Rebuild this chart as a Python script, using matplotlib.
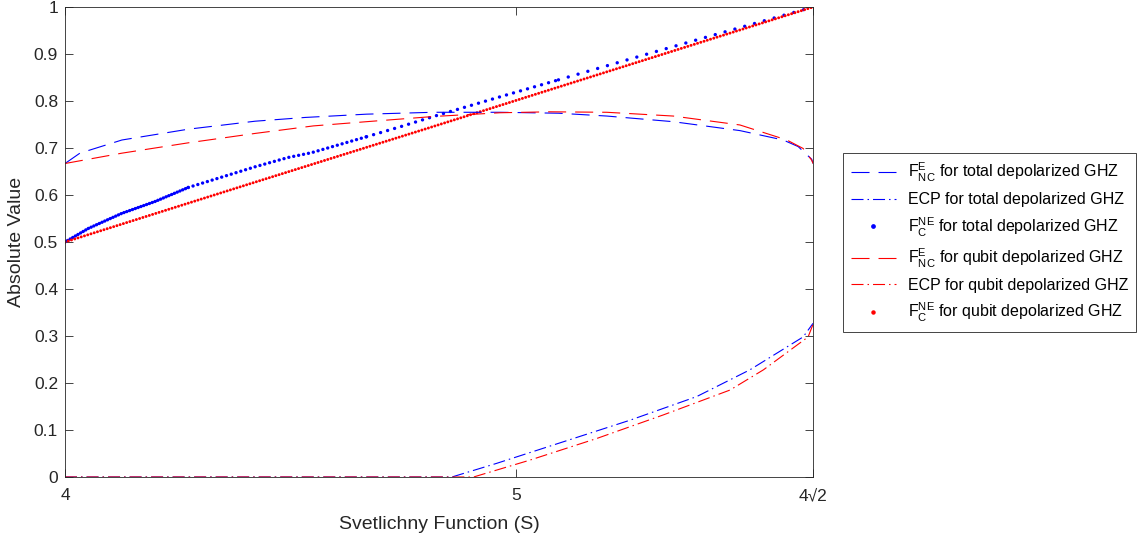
import matplotlib
matplotlib.use("Agg")
import matplotlib.pyplot as plt
from matplotlib.lines import Line2D
import numpy as np

plt.rcParams['font.family'] = ['Liberation Sans', 'DejaVu Sans']
plt.rcParams['mathtext.fontset'] = 'custom'
plt.rcParams['mathtext.rm'] = 'Liberation Sans'
plt.rcParams['mathtext.it'] = 'Liberation Sans'

S_dash_total = [4.0, 4.033, 4.126, 4.273, 4.421, 4.532, 4.668, 4.816, 4.964, 5.093, 5.200, 5.347, 5.495, 5.591, 5.624, 5.654, 5.657]
F_NC_total = [0.667, 0.689, 0.717, 0.740, 0.757, 0.765, 0.772, 0.776, 0.776, 0.774, 0.768, 0.756, 0.737, 0.717, 0.703, 0.676, 0.667]

S_dash_qubit = [4.0, 4.126, 4.273, 4.421, 4.550, 4.668, 4.816, 4.964, 5.074, 5.200, 5.347, 5.495, 5.599, 5.635, 5.654, 5.657]
F_NC_qubit = [0.667, 0.689, 0.711, 0.731, 0.747, 0.756, 0.767, 0.775, 0.777, 0.776, 0.768, 0.749, 0.717, 0.699, 0.674, 0.667]

S_ecp_total = [4.0, 4.857, 4.956, 5.104, 5.252, 5.399, 5.517, 5.635, 5.657]
ECP_total = [0.0, 0.0, 0.029, 0.075, 0.121, 0.171, 0.228, 0.298, 0.327]

S_ecp_qubit = [4.0, 4.905, 5.030, 5.178, 5.325, 5.473, 5.547, 5.646, 5.657]
ECP_qubit = [0.0, 0.0, 0.036, 0.082, 0.132, 0.185, 0.228, 0.298, 0.325]

S_dot_total = [4.0, 4.052, 4.126, 4.199, 4.273, 4.347, 4.421, 4.495, 4.546, 4.668, 4.742, 4.816, 4.964, 5.093, 5.290, 5.421, 5.535, 5.657]
F_C_total = [0.5, 0.529, 0.561, 0.586, 0.616, 0.638, 0.660, 0.680, 0.690, 0.724, 0.745, 0.767, 0.809, 0.845, 0.900, 0.936, 0.967, 1.0]

S_dot_qubit = [4.0, 4.4, 4.8, 5.2, 5.657]
F_C_qubit = [0.5, 0.621, 0.741, 0.862, 1.0]

labels = [r'$\mathrm{F^{E}_{NC}}$ for total depolarized GHZ',
          'ECP for total depolarized GHZ',
          r'$\mathrm{F^{NE}_{C}}$ for total depolarized GHZ',
          r'$\mathrm{F^{E}_{NC}}$ for qubit depolarized GHZ',
          'ECP for qubit depolarized GHZ',
          r'$\mathrm{F^{NE}_{C}}$ for qubit depolarized GHZ']

axcol = '#262626'

fig = plt.figure(figsize=(11.43, 5.37), dpi=100)
ax = fig.add_axes([65 / 1143, 60 / 537, 748 / 1143, 470 / 537])

lw = 0.8
dash = (0, (18 / 1.11, 9 / 1.11))
dashdot = (0, (12 / 1.11, 4 / 1.11, 1.5 / 1.11, 4 / 1.11))

# dotted curves drawn as round-capped zero length dashes
def dots(x, y, color, size, pitch):
    lw_pt = size * 0.72
    ax.plot(x, y, color=color, lw=lw_pt, dash_capstyle='round',
            linestyle=(0, (0.01, pitch / size - 0.01)))

# blue dots get sparser towards 4*sqrt(2)
pieces = [(0, 5, 3.0), (4, 10, 5.0), (9, 14, 7.3), (13, 18, 10.2)]
for a, b, p in pieces:
    dots(S_dot_total[a:b], F_C_total[a:b], 'blue', 3.4, p)
dots(S_dot_qubit, F_C_qubit, 'red', 3.0, 3.4)

ax.plot(S_dash_total, F_NC_total, color='blue', lw=lw, linestyle=dash)
ax.plot(S_ecp_total, ECP_total, color='blue', lw=lw, linestyle=dashdot)
ax.plot(S_dash_qubit, F_NC_qubit, color='red', lw=lw, linestyle=dash)
ax.plot(S_ecp_qubit, ECP_qubit, color='red', lw=lw, linestyle=dashdot)

ax.set_xlim(4, 4 * np.sqrt(2))
ax.set_ylim(0, 1)
ax.set_xticks([4, 5, 4 * np.sqrt(2)])
ax.set_xticklabels(['4', '5', '4\u221a2'])
ax.set_yticks(np.arange(0, 1.01, 0.1))
ax.set_yticklabels(['0', '0.1', '0.2', '0.3', '0.4', '0.5', '0.6', '0.7', '0.8', '0.9', '1'])
ax.tick_params(direction='in', top=True, right=True, length=5.5, width=0.6,
               colors=axcol, labelsize=12.5)
ax.tick_params(axis='x', pad=8)
ax.tick_params(axis='y', pad=5)
for sp in ax.spines.values():
    sp.set_color(axcol)
    sp.set_linewidth(0.6)

ax.set_xlabel('Svetlichny Function (S)', fontsize=14, color=axcol, labelpad=9)
ax.set_ylabel('Absolute Value', fontsize=14, color=axcol, labelpad=6)

handles = [Line2D([], [], color='blue', lw=lw, linestyle=dash),
           Line2D([], [], color='blue', lw=lw, linestyle=dashdot),
           Line2D([], [], color='blue', ls='none', marker='o', ms=2.4),
           Line2D([], [], color='red', lw=lw, linestyle=dash),
           Line2D([], [], color='red', lw=lw, linestyle=dashdot),
           Line2D([], [], color='red', ls='none', marker='o', ms=2.2)]
leg = fig.legend(handles, labels, loc='center left',
                 bbox_to_anchor=(843 / 1143, (537 - 242.5) / 537),
                 fontsize=11.5, frameon=True, fancybox=False, framealpha=1,
                 edgecolor=axcol, handlelength=2.8, handletextpad=0.75,
                 labelspacing=0.5, borderpad=0.5, borderaxespad=0)
leg.get_frame().set_linewidth(0.6)

fig.savefig('out.png', dpi=100)
